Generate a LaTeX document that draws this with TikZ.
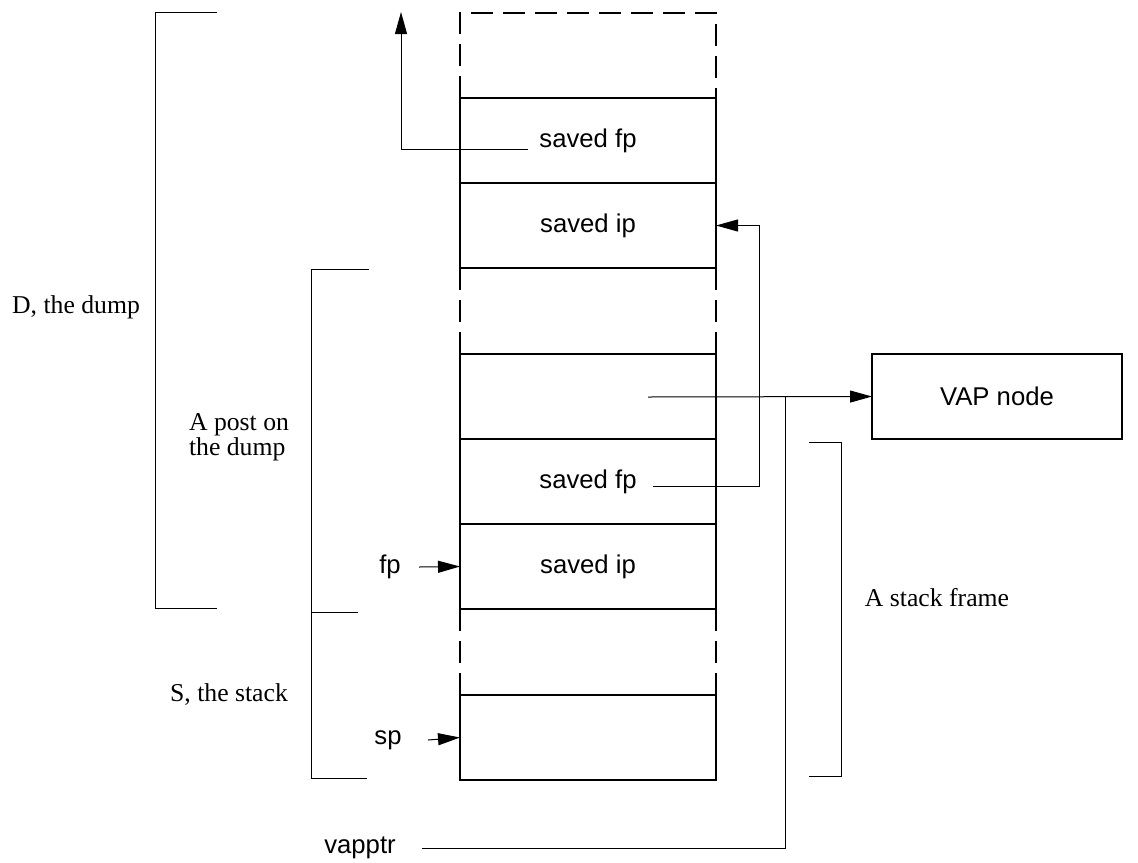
\documentclass[tikz,border=0pt]{standalone}
\usepackage{fontspec}
\setmainfont{Liberation Serif}
\setsansfont{Liberation Sans}
\usepackage{tikz}
\usetikzlibrary{arrows.meta}

\tikzset{
  cell/.style={draw,line width=1pt,rectangle,inner sep=0pt,outer sep=0pt,
    minimum width=128pt,minimum height=42.5pt,
    font=\sffamily\fontsize{12.85}{14}\selectfont},
  dashside/.style={line width=1pt,dash pattern=on 11pt off 5pt},
  ptr/.style={line width=0.5pt,-{Triangle[length=11pt,width=6pt]}},
  wire/.style={line width=0.5pt},
  brack/.style={line width=0.5pt},
  sflab/.style={inner sep=0pt,font=\sffamily\fontsize{12.85}{14}\selectfont},
  rmlab/.style={inner sep=0pt,font=\rmfamily\fontsize{12.85}{12.5}\selectfont}
}

\begin{document}
\begin{tikzpicture}[x=0.5pt,y=-0.5pt]
    \useasboundingbox (0,0) rectangle (1138,862);
    % the stack column
    \node[cell] (fp1) at (588,140.5) {saved fp};
    \node[cell] (ip1) at (588,225.5) {saved ip};
    \node[cell] (vapcell) at (588,396.5) {};
    \node[cell] (fp2) at (588,481.5) {saved fp};
    \node[cell] (ip2) at (588,566.5) {saved ip};
    \node[cell] (topcell) at (588,737.5) {};
    \draw[dashside] (fp1.north west) -- ++(0,-85) -- ++(256,0) -- (fp1.north east);
    \draw[dashside] (ip1.south west) -- (vapcell.north west);
    \draw[dashside] (ip1.south east) -- (vapcell.north east);
    \draw[dashside] (ip2.south west) -- (topcell.north west);
    \draw[dashside] (ip2.south east) -- (topcell.north east);

    \node[draw,line width=1pt,rectangle,minimum width=125pt,minimum height=42.5pt,
      inner sep=0pt,outer sep=0pt,font=\sffamily\fontsize{12.85}{14}\selectfont]
      (vapnode) at (997,396.5) {VAP node};

    % pointers
    \coordinate (fpout1) at (528,149);
    \coordinate (fpup) at (401,12);
    \draw[ptr] (fpout1) -| (fpup);
    \coordinate (fpout2) at (653,486);
    \draw[ptr] (fpout2) -- (759,486) |- (ip1.east);
    \coordinate (vapout) at (648,397);
    \draw[ptr] (vapout) -- (vapnode.west);
    \coordinate (vapjoin) at (785,397);

    \node[sflab] (fplab) at (390,567) {fp};
    \node[sflab] (splab) at (388,740) {sp};
    \node[sflab] (vapptr) at (360,848) {vapptr};
    \draw[ptr] ([xshift=9pt]fplab.east) -- (ip2.west);
    \draw[ptr] ([xshift=13pt]splab.east) -- (topcell.west);
    \draw[wire] ([xshift=13pt]vapptr.east) -| (vapjoin);

    % brackets
    \draw[brack] (217,12) -- (155,12) -- (155,608) -- (217,608);
    \draw[brack] (369,269) -- (311,269) -- (311,778) -- (367,778);
    \draw[brack] (311,612) -- (358,612);
    \draw[brack] (809,442) -- (841,442) -- (841,776) -- (809,776);

    \node[rmlab] (dump) at (76,307) {D, the dump};
    \node[rmlab,align=left] (post) at (239,437) {A post on\\the dump};
    \node[rmlab] (stack) at (229,695) {S, the stack};
    \node[rmlab] (frame) at (937,598) {A stack frame};
  \end{tikzpicture}
\end{document}
